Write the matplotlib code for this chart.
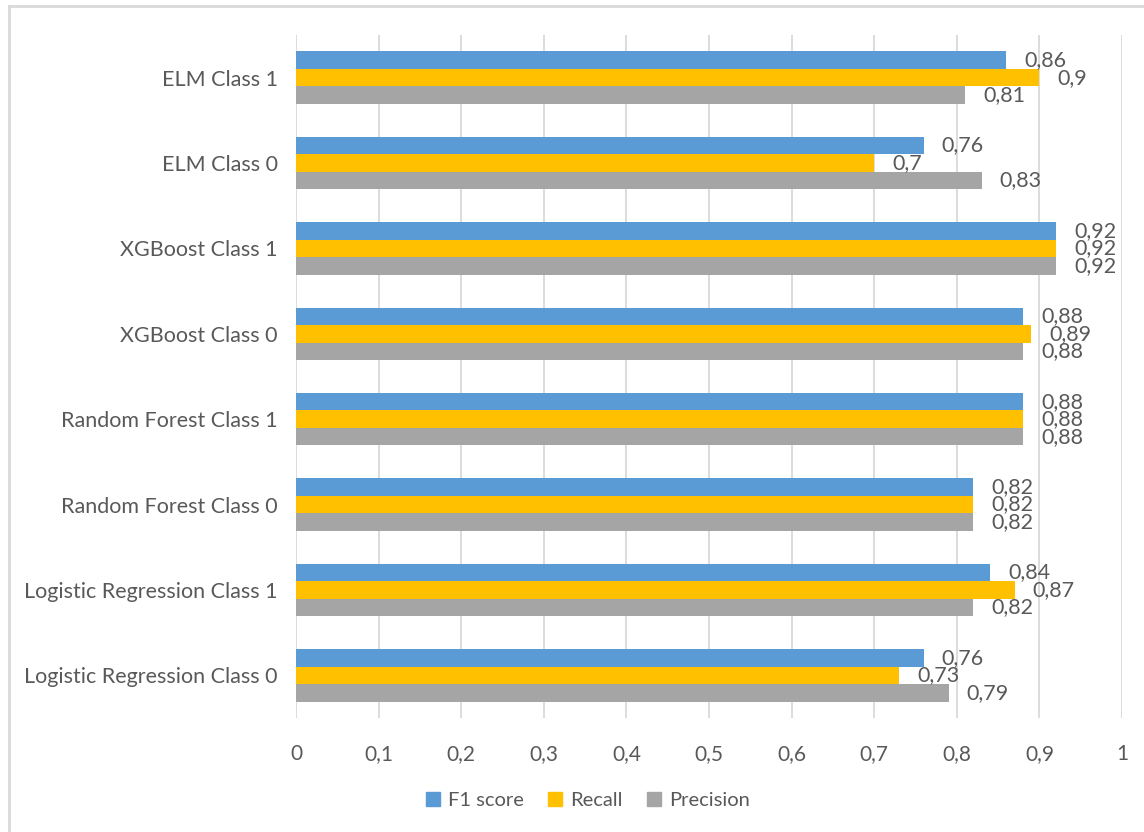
import matplotlib.pyplot as plt
import numpy as np
from matplotlib.lines import Line2D
from matplotlib.patches import Patch

# Classifier results per class (bottom to top as drawn)
categories = ["Logistic Regression Class 0", "Logistic Regression Class 1",
              "Random Forest Class 0", "Random Forest Class 1",
              "XGBoost Class 0", "XGBoost Class 1",
              "ELM Class 0", "ELM Class 1"]
f1_score = [0.76, 0.84, 0.82, 0.88, 0.88, 0.92, 0.76, 0.86]
recall = [0.73, 0.87, 0.82, 0.88, 0.89, 0.92, 0.70, 0.90]
precision = [0.79, 0.82, 0.82, 0.88, 0.88, 0.92, 0.83, 0.81]
series_names = ["F1 score", "Recall", "Precision"]
colors = ["#5b9bd5", "#ffc000", "#a5a5a5"]
xticks = [0, 0.1, 0.2, 0.3, 0.4, 0.5, 0.6, 0.7, 0.8, 0.9, 1]

plt.rcParams['font.family'] = ['Lato', 'DejaVu Sans']
text_color = "#595959"

fig = plt.figure(figsize=(11.44, 8.32), dpi=100)
ax = fig.add_axes([0.2587, 0.137, 0.7221, 0.821])

y = np.arange(len(categories))
h = 0.205
series = [f1_score, recall, precision]
for i, (vals, name, c) in enumerate(zip(series, series_names, colors)):
    pos = y + h * (1 - i)
    ax.barh(pos, vals, height=h, color=c, label=name, zorder=2)
    for p, v in zip(pos, vals):
        lbl = ("%g" % v).replace(".", ",")
        ax.annotate(lbl, (v, p), xytext=(13, 0), textcoords="offset points",
                    ha="left", va="center", fontsize=15.5, color=text_color)

ax.set_xlim(0, 1)
ax.set_ylim(-0.5, len(categories) - 0.5)
ax.set_xticks(xticks)
ax.set_xticklabels([("%g" % t).replace(".", ",") for t in xticks])
ax.set_yticks(y)
ax.set_yticklabels(categories)
ax.tick_params(axis="both", length=0, labelsize=15, colors=text_color)
ax.tick_params(axis="y", labelsize=15.5, pad=13)
ax.tick_params(axis="x", pad=19)
ax.grid(axis="x", color="#d9d9d9", linewidth=1.3, zorder=0)
for s in ax.spines.values():
    s.set_visible(False)

handles = [Patch(color=c) for c in colors]
leg = fig.legend(handles, series_names, loc="center", bbox_to_anchor=(0.514, 0.038),
                 ncol=3, frameon=False, fontsize=14.5, handlelength=0.7,
                 handleheight=0.7, handletextpad=0.4, columnspacing=1.2)
for t in leg.get_texts():
    t.set_color(text_color)

# chart frame (top and left edges)
fig.add_artist(Line2D([0.008, 1.0], [0.993, 0.993], color="#d9d9d9", linewidth=2))
fig.add_artist(Line2D([0.008, 0.008], [0.0, 0.993], color="#d9d9d9", linewidth=2))

fig.savefig("out.png", dpi=100)
